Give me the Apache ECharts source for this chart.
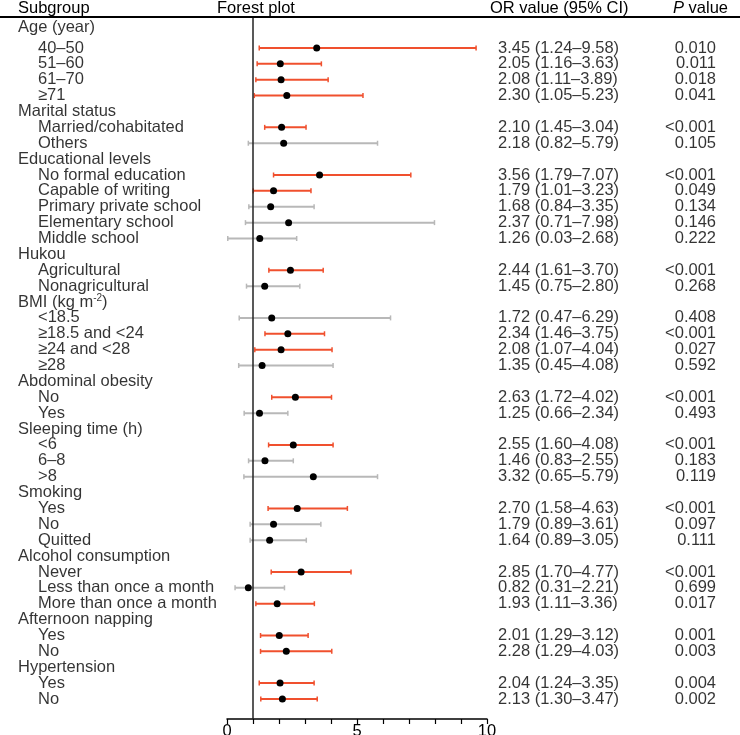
<!DOCTYPE html>
<html>
<head>
<meta charset="utf-8">
<script src="https://cdn.jsdelivr.net/npm/echarts@6/dist/echarts.min.js"></script>
<style>
html,body{margin:0;padding:0;background:#fff;}
#chart{width:740px;height:735px;}
</style>
</head>
<body>
<div id="chart"></div>
<script>
// ---- data ----
const subgroups = ['Age (year)','40–50','51–60','61–70','≥71',
  'Marital status','Married/cohabitated','Others',
  'Educational levels','No formal education','Capable of writing','Primary private school','Elementary school','Middle school',
  'Hukou','Agricultural','Nonagricultural',
  'BMI (kg m{sup|-2})','<18.5','≥18.5 and <24','≥24 and <28','≥28',
  'Abdominal obesity','No','Yes',
  'Sleeping time (h)','<6','6–8','>8',
  'Smoking','Yes','No','Quitted',
  'Alcohol consumption','Never','Less than once a month','More than once a month',
  'Afternoon napping','Yes','No',
  'Hypertension','Yes','No'];
const isGroup = [1,0,0,0,0, 1,0,0, 1,0,0,0,0,0, 1,0,0, 1,0,0,0,0, 1,0,0, 1,0,0,0, 1,0,0,0, 1,0,0,0, 1,0,0, 1,0,0];
const orValues = [null,3.45,2.05,2.08,2.30, null,2.10,2.18, null,3.56,1.79,1.68,2.37,1.26, null,2.44,1.45, null,1.72,2.34,2.08,1.35, null,2.63,1.25, null,2.55,1.46,3.32, null,2.70,1.79,1.64, null,2.85,0.82,1.93, null,2.01,2.28, null,2.04,2.13];
const ciLower = [null,1.24,1.16,1.11,1.05, null,1.45,0.82, null,1.79,1.01,0.84,0.71,0.03, null,1.61,0.75, null,0.47,1.46,1.07,0.45, null,1.72,0.66, null,1.60,0.83,0.65, null,1.58,0.89,0.89, null,1.70,0.31,1.11, null,1.29,1.29, null,1.24,1.30];
const ciUpper = [null,9.58,3.63,3.89,5.23, null,3.04,5.79, null,7.07,3.23,3.35,7.98,2.68, null,3.70,2.80, null,6.29,3.75,4.04,4.08, null,4.02,2.34, null,4.08,2.55,5.79, null,4.63,3.61,3.05, null,4.77,2.21,3.36, null,3.12,4.03, null,3.35,3.47];
const pValues = ['','0.010','0.011','0.018','0.041', '','<0.001','0.105', '','<0.001','0.049','0.134','0.146','0.222', '','<0.001','0.268', '','0.408','<0.001','0.027','0.592', '','<0.001','0.493', '','<0.001','0.183','0.119', '','<0.001','0.097','0.111', '','<0.001','0.699','0.017', '','0.001','0.003', '','0.004','0.002'];
const xTicks = [0,5,10];

// ---- build ----
const RED = '#f0502e', GRAY = '#b8b8b8';
const FONT = '"Liberation Sans", Arial, sans-serif';
const FS = 16.5;
function isSig(p){ return p.startsWith('<') || parseFloat(p) < 0.05; }

const barData = [], pointData = [], leftText = [], orText = [], pText = [];
subgroups.forEach((s,i)=>{
  leftText.push({value:[0,i], label:{offset:[isGroup[i]?0:20, i===0?-5:0]}, name:s});
  if(orValues[i]!=null){
    barData.push([ciLower[i], ciUpper[i], i, isSig(pValues[i])?1:0]);
    pointData.push([orValues[i], i]);
    orText.push({value:[0,i], name: orValues[i].toFixed(2)+' ('+ciLower[i].toFixed(2)+'–'+ciUpper[i].toFixed(2)+')'});
    pText.push({value:[0,i], name: pValues[i]});
  }
});

const yMin = -0.95, yMax = 43.26;
const gridTop = 17, gridH = 702;
function yAx(idx){ return {gridIndex:idx, type:'value', inverse:true, min:yMin, max:yMax, show:false}; }
function hidX(idx){ return {gridIndex:idx, type:'value', min:0, max:1, show:false}; }
function mkGrid(left){ return {left:left, top:gridTop, width:(left===227?260:10), height:gridH, containLabel:false, outerBoundsMode:'none'}; }
const textLabel = {show:true, position:'right', distance:0, color:'#000', fontSize:FS, fontFamily:FONT,
  formatter:p=>p.name, rich:{sup:{fontSize:10, fontFamily:FONT, color:'#000', padding:[0,0,8,0]}}};

const option = {
  animation:false,
  backgroundColor:'#fff',
  grid:[mkGrid(227), mkGrid(18), mkGrid(498), mkGrid(716)],
  xAxis:[
    {gridIndex:0, type:'value', min:0, max:10, interval:1,
     axisLine:{show:true, onZero:false, lineStyle:{color:'#000', width:1.5}},
     axisTick:{show:true, inside:false, length:5, lineStyle:{color:'#000', width:1.2}},
     axisLabel:{show:true, margin:4, color:'#000', fontSize:FS, fontFamily:FONT,
       formatter:v=> xTicks.includes(v) ? String(v) : ''},
     splitLine:{show:false}},
    hidX(1), hidX(2), hidX(3)
  ],
  yAxis:[yAx(0), yAx(1), yAx(2), yAx(3)],
  graphic:[
    {type:'line', shape:{x1:0,y1:17,x2:740,y2:17}, style:{stroke:'#000', lineWidth:2}, z:10},
    {type:'text', left:18, top:0, style:{text:'Subgroup', font:FS+'px '+FONT, fill:'#000'}},
    {type:'text', left:217, top:0, style:{text:'Forest plot', font:FS+'px '+FONT, fill:'#000'}},
    {type:'text', left:490, top:0, style:{text:'OR value (95% CI)', font:FS+'px '+FONT, fill:'#000'}},
    {type:'text', left:673, top:0, style:{text:'{i|P} value', font:FS+'px '+FONT, fill:'#000',
       rich:{i:{fontStyle:'italic', fontSize:FS, fontFamily:FONT, fill:'#000'}}}}
  ],
  series:[
    {type:'custom', xAxisIndex:0, yAxisIndex:0, data:barData, clip:false,
     renderItem:(params, api)=>{
       const a = api.coord([api.value(0), api.value(2)]);
       const b = api.coord([api.value(1), api.value(2)]);
       const c = api.value(3) ? RED : GRAY;
       const h = 2.5;
       return {type:'group', children:[
         {type:'line', shape:{x1:a[0],y1:a[1],x2:b[0],y2:b[1]}, style:{stroke:c, lineWidth:2}},
         {type:'line', shape:{x1:a[0],y1:a[1]-h,x2:a[0],y2:a[1]+h}, style:{stroke:c, lineWidth:1.5}},
         {type:'line', shape:{x1:b[0],y1:b[1]-h,x2:b[0],y2:b[1]+h}, style:{stroke:c, lineWidth:1.5}}
       ]};
     },
     markLine:{silent:true, symbol:'none', label:{show:false},
       lineStyle:{color:'#222', width:1.5, type:'solid'}, data:[{xAxis:1}]}
    },
    {type:'scatter', xAxisIndex:0, yAxisIndex:0, data:pointData, symbol:'circle', symbolSize:7,
     itemStyle:{color:'#000', opacity:1}, z:5},
    {type:'scatter', xAxisIndex:1, yAxisIndex:1, data:leftText, symbolSize:0, itemStyle:{color:'transparent'}, label:textLabel},
    {type:'scatter', xAxisIndex:2, yAxisIndex:2, data:orText, symbolSize:0, itemStyle:{color:'transparent'}, label:textLabel},
    {type:'scatter', xAxisIndex:3, yAxisIndex:3, data:pText, symbolSize:0, itemStyle:{color:'transparent'},
     label:Object.assign({}, textLabel, {position:'left'})}
  ]
};
const chart = echarts.init(document.getElementById('chart'), null, {renderer:'canvas'});
chart.setOption(option);
</script>
</body>
</html>
